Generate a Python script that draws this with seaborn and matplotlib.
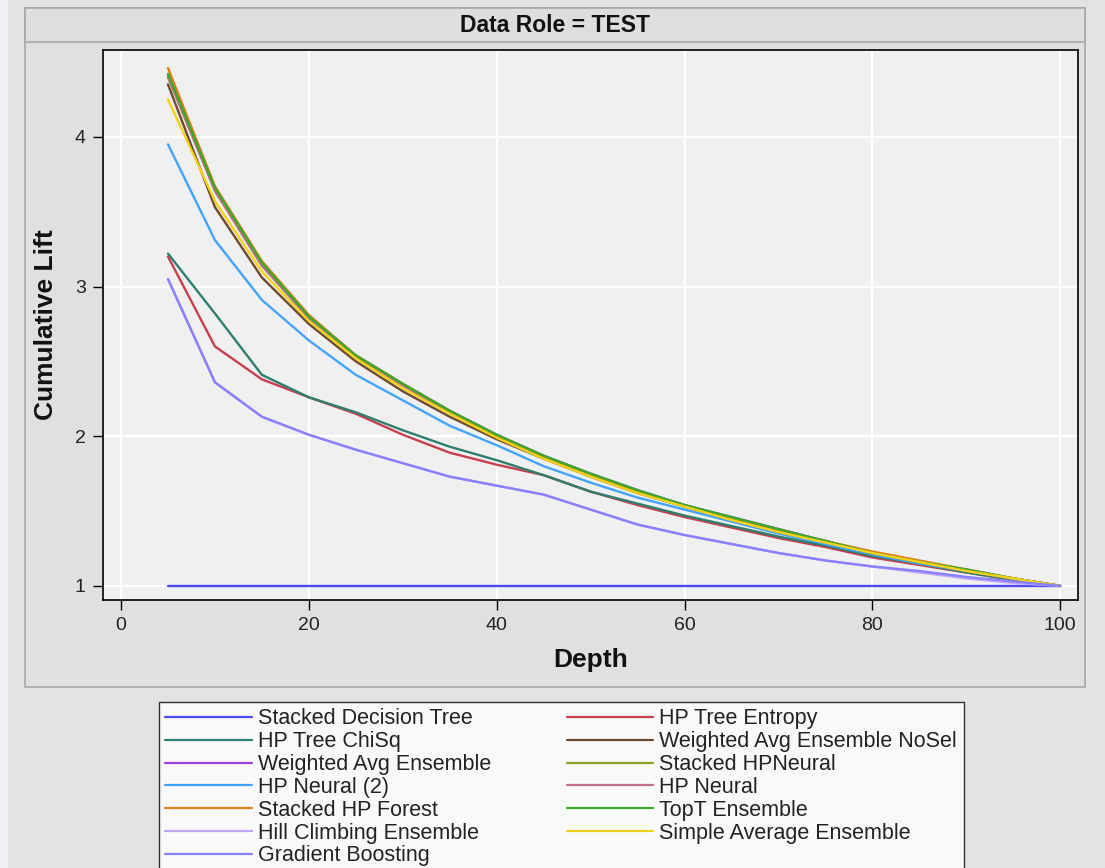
import numpy as np
import pandas as pd
import matplotlib
matplotlib.use("Agg")
import matplotlib.pyplot as plt
from matplotlib.patches import Rectangle
import seaborn as sns

depth = [5, 10, 15, 20, 25, 30, 35, 40, 45, 50, 55, 60, 65, 70, 75, 80, 85, 90, 95, 100]

stacked_decision_tree = [1.0] * 20
hp_tree_entropy = [3.20, 2.60, 2.38, 2.26, 2.15, 2.01, 1.89, 1.81, 1.74, 1.63, 1.54, 1.46, 1.39, 1.32, 1.26, 1.19, 1.14, 1.09, 1.04, 1.00]
hp_tree_chisq = [3.22, 2.82, 2.41, 2.26, 2.16, 2.04, 1.93, 1.84, 1.74, 1.63, 1.55, 1.47, 1.40, 1.33, 1.27, 1.20, 1.15, 1.09, 1.04, 1.00]
weighted_avg_nosel = [4.35, 3.53, 3.06, 2.75, 2.50, 2.30, 2.13, 1.98, 1.85, 1.73, 1.62, 1.53, 1.44, 1.36, 1.29, 1.22, 1.16, 1.10, 1.05, 1.00]
weighted_avg = [4.42, 3.66, 3.16, 2.80, 2.54, 2.35, 2.17, 2.01, 1.87, 1.75, 1.64, 1.54, 1.46, 1.38, 1.30, 1.22, 1.16, 1.11, 1.05, 1.00]
stacked_hpneural = [4.40, 3.64, 3.14, 2.79, 2.53, 2.34, 2.16, 2.00, 1.86, 1.74, 1.63, 1.54, 1.45, 1.37, 1.30, 1.22, 1.16, 1.10, 1.05, 1.00]
hp_neural_2 = [3.95, 3.31, 2.91, 2.64, 2.41, 2.24, 2.07, 1.94, 1.80, 1.69, 1.59, 1.51, 1.43, 1.35, 1.28, 1.21, 1.15, 1.10, 1.05, 1.00]
hp_neural = [4.40, 3.64, 3.14, 2.79, 2.53, 2.34, 2.16, 2.00, 1.86, 1.74, 1.63, 1.54, 1.45, 1.37, 1.30, 1.22, 1.16, 1.10, 1.05, 1.00]
stacked_hp_forest = [4.46, 3.67, 3.17, 2.81, 2.54, 2.35, 2.17, 2.00, 1.86, 1.74, 1.63, 1.54, 1.45, 1.37, 1.30, 1.23, 1.17, 1.11, 1.05, 1.00]
topt_ensemble = [4.42, 3.66, 3.16, 2.80, 2.54, 2.35, 2.17, 2.01, 1.87, 1.75, 1.64, 1.54, 1.46, 1.38, 1.30, 1.22, 1.16, 1.11, 1.05, 1.00]
hill_climbing = [3.05, 2.36, 2.13, 2.01, 1.91, 1.82, 1.73, 1.67, 1.61, 1.51, 1.41, 1.34, 1.28, 1.22, 1.17, 1.13, 1.09, 1.05, 1.02, 1.00]
simple_average = [4.25, 3.57, 3.10, 2.77, 2.52, 2.32, 2.15, 1.99, 1.85, 1.73, 1.62, 1.53, 1.44, 1.36, 1.29, 1.22, 1.16, 1.10, 1.05, 1.00]
gradient_boosting = [3.05, 2.36, 2.13, 2.01, 1.91, 1.82, 1.73, 1.67, 1.61, 1.51, 1.41, 1.34, 1.28, 1.22, 1.17, 1.13, 1.10, 1.06, 1.03, 1.00]

series = [
    ("Stacked Decision Tree", stacked_decision_tree, "#4B4BEF"),
    ("HP Tree Entropy", hp_tree_entropy, "#C8404F"),
    ("HP Tree ChiSq", hp_tree_chisq, "#2E7F6E"),
    ("Weighted Avg Ensemble NoSel", weighted_avg_nosel, "#6E4A30"),
    ("Weighted Avg Ensemble", weighted_avg, "#A040E0"),
    ("Stacked HPNeural", stacked_hpneural, "#8FA024"),
    ("HP Neural (2)", hp_neural_2, "#42A4FF"),
    ("HP Neural", hp_neural, "#C06C8C"),
    ("Stacked HP Forest", stacked_hp_forest, "#E0801A"),
    ("TopT Ensemble", topt_ensemble, "#3AAA2A"),
    ("Hill Climbing Ensemble", hill_climbing, "#C0A6F4"),
    ("Simple Average Ensemble", simple_average, "#F4D21A"),
    ("Gradient Boosting", gradient_boosting, "#8A80FF"),
]

rows = []
for name, vals, _ in series:
    for d, v in zip(depth, vals):
        rows.append({"Depth": d, "Cumulative Lift": v, "Model": name})
df = pd.DataFrame(rows)
palette = {name: c for name, _, c in series}
hue_order = [name for name, _, _ in series]

sns.set_theme(style="white")
plt.rcParams['font.family'] = ['Liberation Sans', 'DejaVu Sans']

fig = plt.figure(figsize=(11.05, 8.68), dpi=100)
fig.patch.set_facecolor("#E3E3E3")
W, H = 1105.0, 868.0

# light strip at far left
fig.add_artist(Rectangle((0, 0), 8 / W, 1, transform=fig.transFigure,
                         facecolor="#EEF0F4", edgecolor="none", zorder=0))
# outer panel
fig.add_artist(Rectangle((25 / W, 1 - 687 / H), 1060 / W, 679 / H, transform=fig.transFigure,
                         facecolor="#E0E0E0", edgecolor="#A8A8A8", lw=1.2, zorder=0))
# header strip
fig.add_artist(Rectangle((25 / W, 1 - 42 / H), 1060 / W, 34 / H, transform=fig.transFigure,
                         facecolor="#DEDEDE", edgecolor="#A8A8A8", lw=1.2, zorder=1))
fig.text(555 / W, 1 - 26 / H, "Data Role = TEST", ha="center", va="center",
         fontsize=16.5, fontweight="bold", color="#111111")

ax = fig.add_axes([103 / W, 1 - 600 / H, (1078 - 103) / W, (600 - 50) / H])
ax.set_facecolor("#F0F0F0")

sns.lineplot(data=df, x="Depth", y="Cumulative Lift", hue="Model", hue_order=hue_order,
             palette=palette, ax=ax, linewidth=1.7, legend=False, sort=False,
             estimator=None)

ax.set_xlim(-1.92, 101.9)
ax.set_ylim(0.906, 4.58)
ax.set_xticks([0, 20, 40, 60, 80, 100])
ax.set_yticks([1, 2, 3, 4])
ax.grid(True, color="white", lw=1.6)
ax.set_axisbelow(True)
for s in ax.spines.values():
    s.set_color("black")
    s.set_linewidth(1.2)
ax.tick_params(axis="both", direction="out", length=7.5, width=1, color="black",
               labelsize=14, labelcolor="#222222", bottom=True, left=True, pad=5)
ax.set_xlabel("Depth", fontsize=19, fontweight="bold", labelpad=10, color="#111111")
ax.set_ylabel("Cumulative Lift", fontsize=19, fontweight="bold", labelpad=12, color="#111111")

# legend
col1 = ["Stacked Decision Tree", "HP Tree ChiSq", "Weighted Avg Ensemble", "HP Neural (2)",
        "Stacked HP Forest", "Hill Climbing Ensemble", "Gradient Boosting"]
col2 = ["HP Tree Entropy", "Weighted Avg Ensemble NoSel", "Stacked HPNeural", "HP Neural",
        "TopT Ensemble", "Simple Average Ensemble"]
order = col1 + col2
handles = [plt.Line2D([], [], color=palette[n], lw=1.6) for n in order]
leg = fig.legend(handles, order, ncol=2, loc="upper left",
                 bbox_to_anchor=(159 / W, 1 - 702 / H), frameon=True, fancybox=False,
                 fontsize=15.5, handlelength=4.0, handletextpad=0.28, labelspacing=0.085,
                 columnspacing=3.55, borderpad=0.3, borderaxespad=0)
leg.get_frame().set_edgecolor("black")
leg.get_frame().set_facecolor("white")
leg.get_frame().set_linewidth(1.0)
for t in leg.get_texts():
    t.set_color("#222222")

fig.savefig("out.png", dpi=100, facecolor=fig.get_facecolor())
